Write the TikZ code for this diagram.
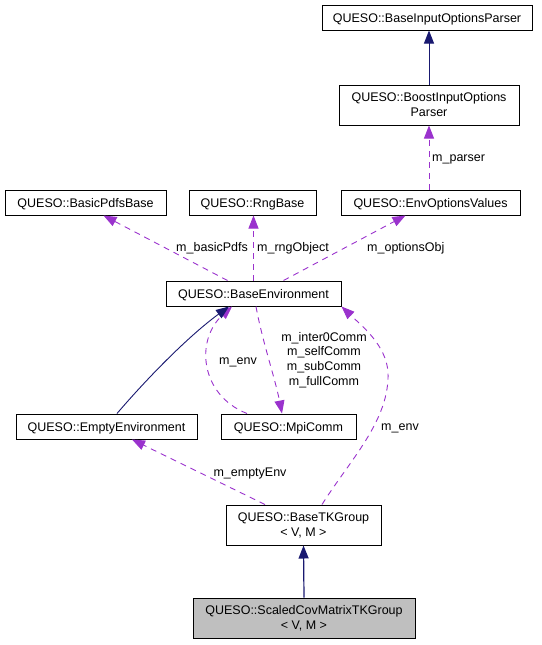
\documentclass[tikz,border=0pt]{standalone}
\usepackage{fontspec}
\setmainfont{Liberation Sans}
\usetikzlibrary{arrows.meta,calc}
\definecolor{edgepurple}{HTML}{9A32CD}
\definecolor{edgenavy}{HTML}{191970}
\definecolor{mainfill}{HTML}{BFBFBF}
\begin{document}
\begin{tikzpicture}[x=1pt,y=-1pt,
  cls/.style={draw=black,line width=1pt,fill=white,inner sep=0pt,
    font=\fontsize{12.5}{15}\selectfont,align=center},
  one/.style={cls,minimum height=25pt,text height=9pt,text depth=0pt},
  two/.style={cls,minimum height=40pt},
  lbl/.style={inner sep=0pt,font=\fontsize{12.5}{14.7}\selectfont,text height=9pt,text depth=0pt},
  lblm/.style={inner sep=0pt,font=\fontsize{12.5}{14.7}\selectfont,align=center},
  uses/.style={draw=edgepurple,line width=0.9pt,dash pattern=on 6pt off 5pt,
    -{Triangle[length=13pt,width=10pt,fill=edgepurple]}},
  inherit/.style={draw=edgenavy,line width=0.9pt,
    -{Triangle[length=13pt,width=10pt,fill=edgenavy]}},
]
\useasboundingbox (0,0) rectangle (541,645);

% nodes
\node[one,minimum width=210pt] (baseparser) at (427,17.5) {QUESO::BaseInputOptionsParser};
\node[two,minimum width=180pt] (boost) at (429,105) {QUESO::BoostInputOptions\\Parser};
\node[one,minimum width=161pt] (basicpdfs) at (85.5,202.5) {QUESO::BasicPdfsBase};
\node[one,minimum width=127pt] (rng) at (252.5,202.5) {QUESO::RngBase};
\node[one,minimum width=179pt] (envopt) at (430.5,202.5) {QUESO::EnvOptionsValues};
\node[one,minimum width=175pt] (baseenv) at (253.5,293.5) {QUESO::BaseEnvironment};
\node[one,minimum width=181pt] (emptyenv) at (106.5,426.5) {QUESO::EmptyEnvironment};
\node[one,minimum width=135pt] (mpicomm) at (288.5,426.5) {QUESO::MpiComm};
\node[two,minimum width=155pt] (basetk) at (303.5,525) {QUESO::BaseTKGroup\\< V, M >};
\node[two,minimum width=222pt,fill=mainfill] (scaled) at (304,618) {QUESO::ScaledCovMatrixTKGroup\\< V, M >};

% edges
\draw[inherit,line width=1.2pt] (scaled.north) -- (basetk.south);
\draw[inherit] (boost.north) -- (boost.north |- baseparser.south);
\draw[uses] (boost.south |- envopt.north) -- (boost.south);
\draw[uses] ([xshift=-26pt]baseenv.north) -- ([xshift=18pt]basicpdfs.south);
\draw[uses] (baseenv.north) -- (baseenv.north |- rng.south);
\draw[uses] ([xshift=30pt]baseenv.north) -- ([xshift=-25pt]envopt.south);
\draw[uses] ([xshift=2.5pt]baseenv.south) .. controls (262,340) and (275,378) .. ([xshift=-6.5pt]mpicomm.north);
\draw[uses] ([xshift=-41.5pt]mpicomm.north) .. controls (200,395) and (195,340) .. ([xshift=-21.5pt]baseenv.south);
\draw[inherit] ([xshift=10.5pt]emptyenv.north) .. controls (150,375) and (190,335) .. ([xshift=-24.5pt]baseenv.south);
\draw[uses] ([xshift=-38.5pt]basetk.north) -- ([xshift=25.5pt]emptyenv.south);
\draw[uses] ([xshift=18.5pt]basetk.north) .. controls (350,460) and (390,420) .. (388,372)
   .. controls (386,345) and (362,326) .. (baseenv.south east);

% labels
\node[lbl,anchor=west] (lparser) at (432,157) {m\_parser};
\node[lbl,anchor=east] (lpdfs) at (248,247) {m\_basicPdfs};
\node[lbl,anchor=west] (lrng) at (257,247) {m\_rngObject};
\node[lbl,anchor=west] (lopt) at (367,247) {m\_optionsObj};
\node[lblm] (lcomm) at (324,360) {m\_inter0Comm\\m\_selfComm\\m\_subComm\\m\_fullComm};
\node[lbl] (lenv1) at (238,360) {m\_env};
\node[lbl] (lempty) at (250,472) {m\_emptyEnv};
\node[lbl] (lenv2) at (400,426) {m\_env};
\end{tikzpicture}
\end{document}
